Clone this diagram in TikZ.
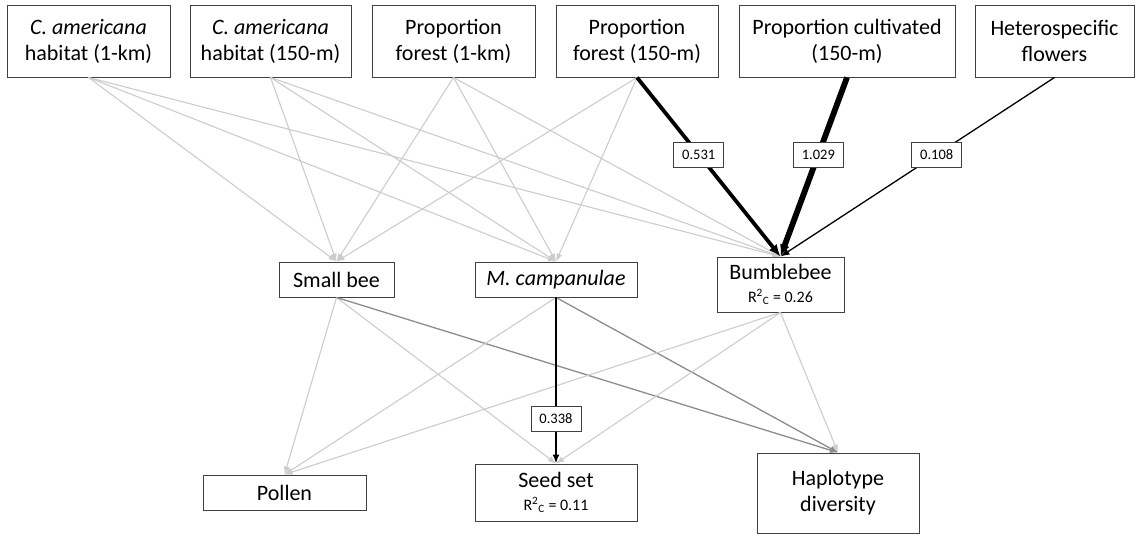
\documentclass[tikz,border=0pt]{standalone}
\usepackage{fontspec}
\setmainfont{Carlito}
\usetikzlibrary{arrows.meta}
\begin{document}
\begin{tikzpicture}[x=1pt,y=-1pt,
  box/.style={draw=black!75, line width=0.9pt, fill=white, align=center, inner sep=0pt,
    font=\fontsize{22}{26}\selectfont},
  lab/.style={draw=black!75, line width=0.8pt, fill=white, inner sep=0pt, minimum width=50pt,
    minimum height=25pt, font=\fontsize{14.5}{16}\selectfont},
  light/.style={draw=black!20, line width=1.1pt, -{Latex[length=8pt,width=6pt]}},
  mid/.style={draw=black!45, line width=1.3pt, -{Latex[length=8pt,width=6pt]}},
  strong/.style={draw=black, -{Latex[length=12pt,width=10pt]}}]
\useasboundingbox (0,0) rectangle (1136,536);
% top row
\node[box, minimum width=163pt, minimum height=72pt] (b1) at (88.5,41) {\textit{C. americana}\\habitat (1-km)};
\node[box, minimum width=161pt, minimum height=72pt] (b2) at (270.5,41) {\textit{C. americana}\\habitat (150-m)};
\node[box, minimum width=163pt, minimum height=72pt] (b3) at (453.5,41) {Proportion\\forest (1-km)};
\node[box, minimum width=162pt, minimum height=72pt] (b4) at (637,41) {Proportion\\forest (150-m)};
\node[box, minimum width=216pt, minimum height=72pt] (b5) at (847,41) {Proportion cultivated\\(150-m)};
\node[box, minimum width=159pt, minimum height=72pt] (b6) at (1054.5,41) {Heterospecific\\flowers};
% middle row
\node[box, minimum width=115pt, minimum height=35pt] (sb) at (336.5,279.5) {Small bee};
\node[box, minimum width=162pt, minimum height=35pt] (mc) at (556,279.5) {\textit{M. campanulae}};
\node[box, minimum width=127pt, minimum height=55pt] (bb) at (780.5,284.5) {Bumblebee\\[-3pt]{\fontsize{16}{19}\selectfont R\textsuperscript{2}\textsubscript{C} = 0.26}};
% bottom row
\node[box, minimum width=163pt, minimum height=35pt] (po) at (284.5,492.5) {Pollen};
\node[box, minimum width=162pt, minimum height=57pt] (ss) at (556,492.5) {Seed set\\[-3pt]{\fontsize{16}{19}\selectfont R\textsuperscript{2}\textsubscript{C} = 0.11}};
\node[box, minimum width=162pt, minimum height=80pt] (hd) at (838,493) {Haplotype\\diversity};
% light edges top -> middle
\foreach \s in {b1,b2,b3} {
  \draw[light] (\s.south) -- (sb.north);
  \draw[light] (\s.south) -- (mc.north);
  \draw[light] (\s.south) -- (bb.north);
}
\draw[light] (b4.south) -- (sb.north);
\draw[light] (b4.south) -- (mc.north);
% middle -> bottom
\draw[light] (sb.south) -- (po.north);
\draw[light] (sb.south) -- (ss.north);
\draw[mid] (sb.south) -- (hd.north);
\draw[light] (mc.south) -- (po.north);
\draw[mid] (mc.south) -- (hd.north);
\draw[light] (bb.south) -- (po.north);
\draw[light] (bb.south) -- (ss.north);
\draw[light] (bb.south) -- (hd.north);
% strong edges
\draw[strong, line width=3.8pt] (b4.south) -- node[lab, pos=0.43] {0.531} (bb.north);
\draw[strong, line width=5.8pt] (b5.south) -- node[lab, pos=0.43] {1.029} (bb.north);
\draw[strong, line width=1.3pt, -{Latex[length=9pt,width=7pt]}] (b6.south) -- node[lab, pos=0.43] {0.108} (bb.north);
\draw[strong, line width=2pt, -{Latex[length=9pt,width=7pt]}] (mc.south) -- node[lab, pos=0.73] {0.338} (ss.north);
\end{tikzpicture}
\end{document}
